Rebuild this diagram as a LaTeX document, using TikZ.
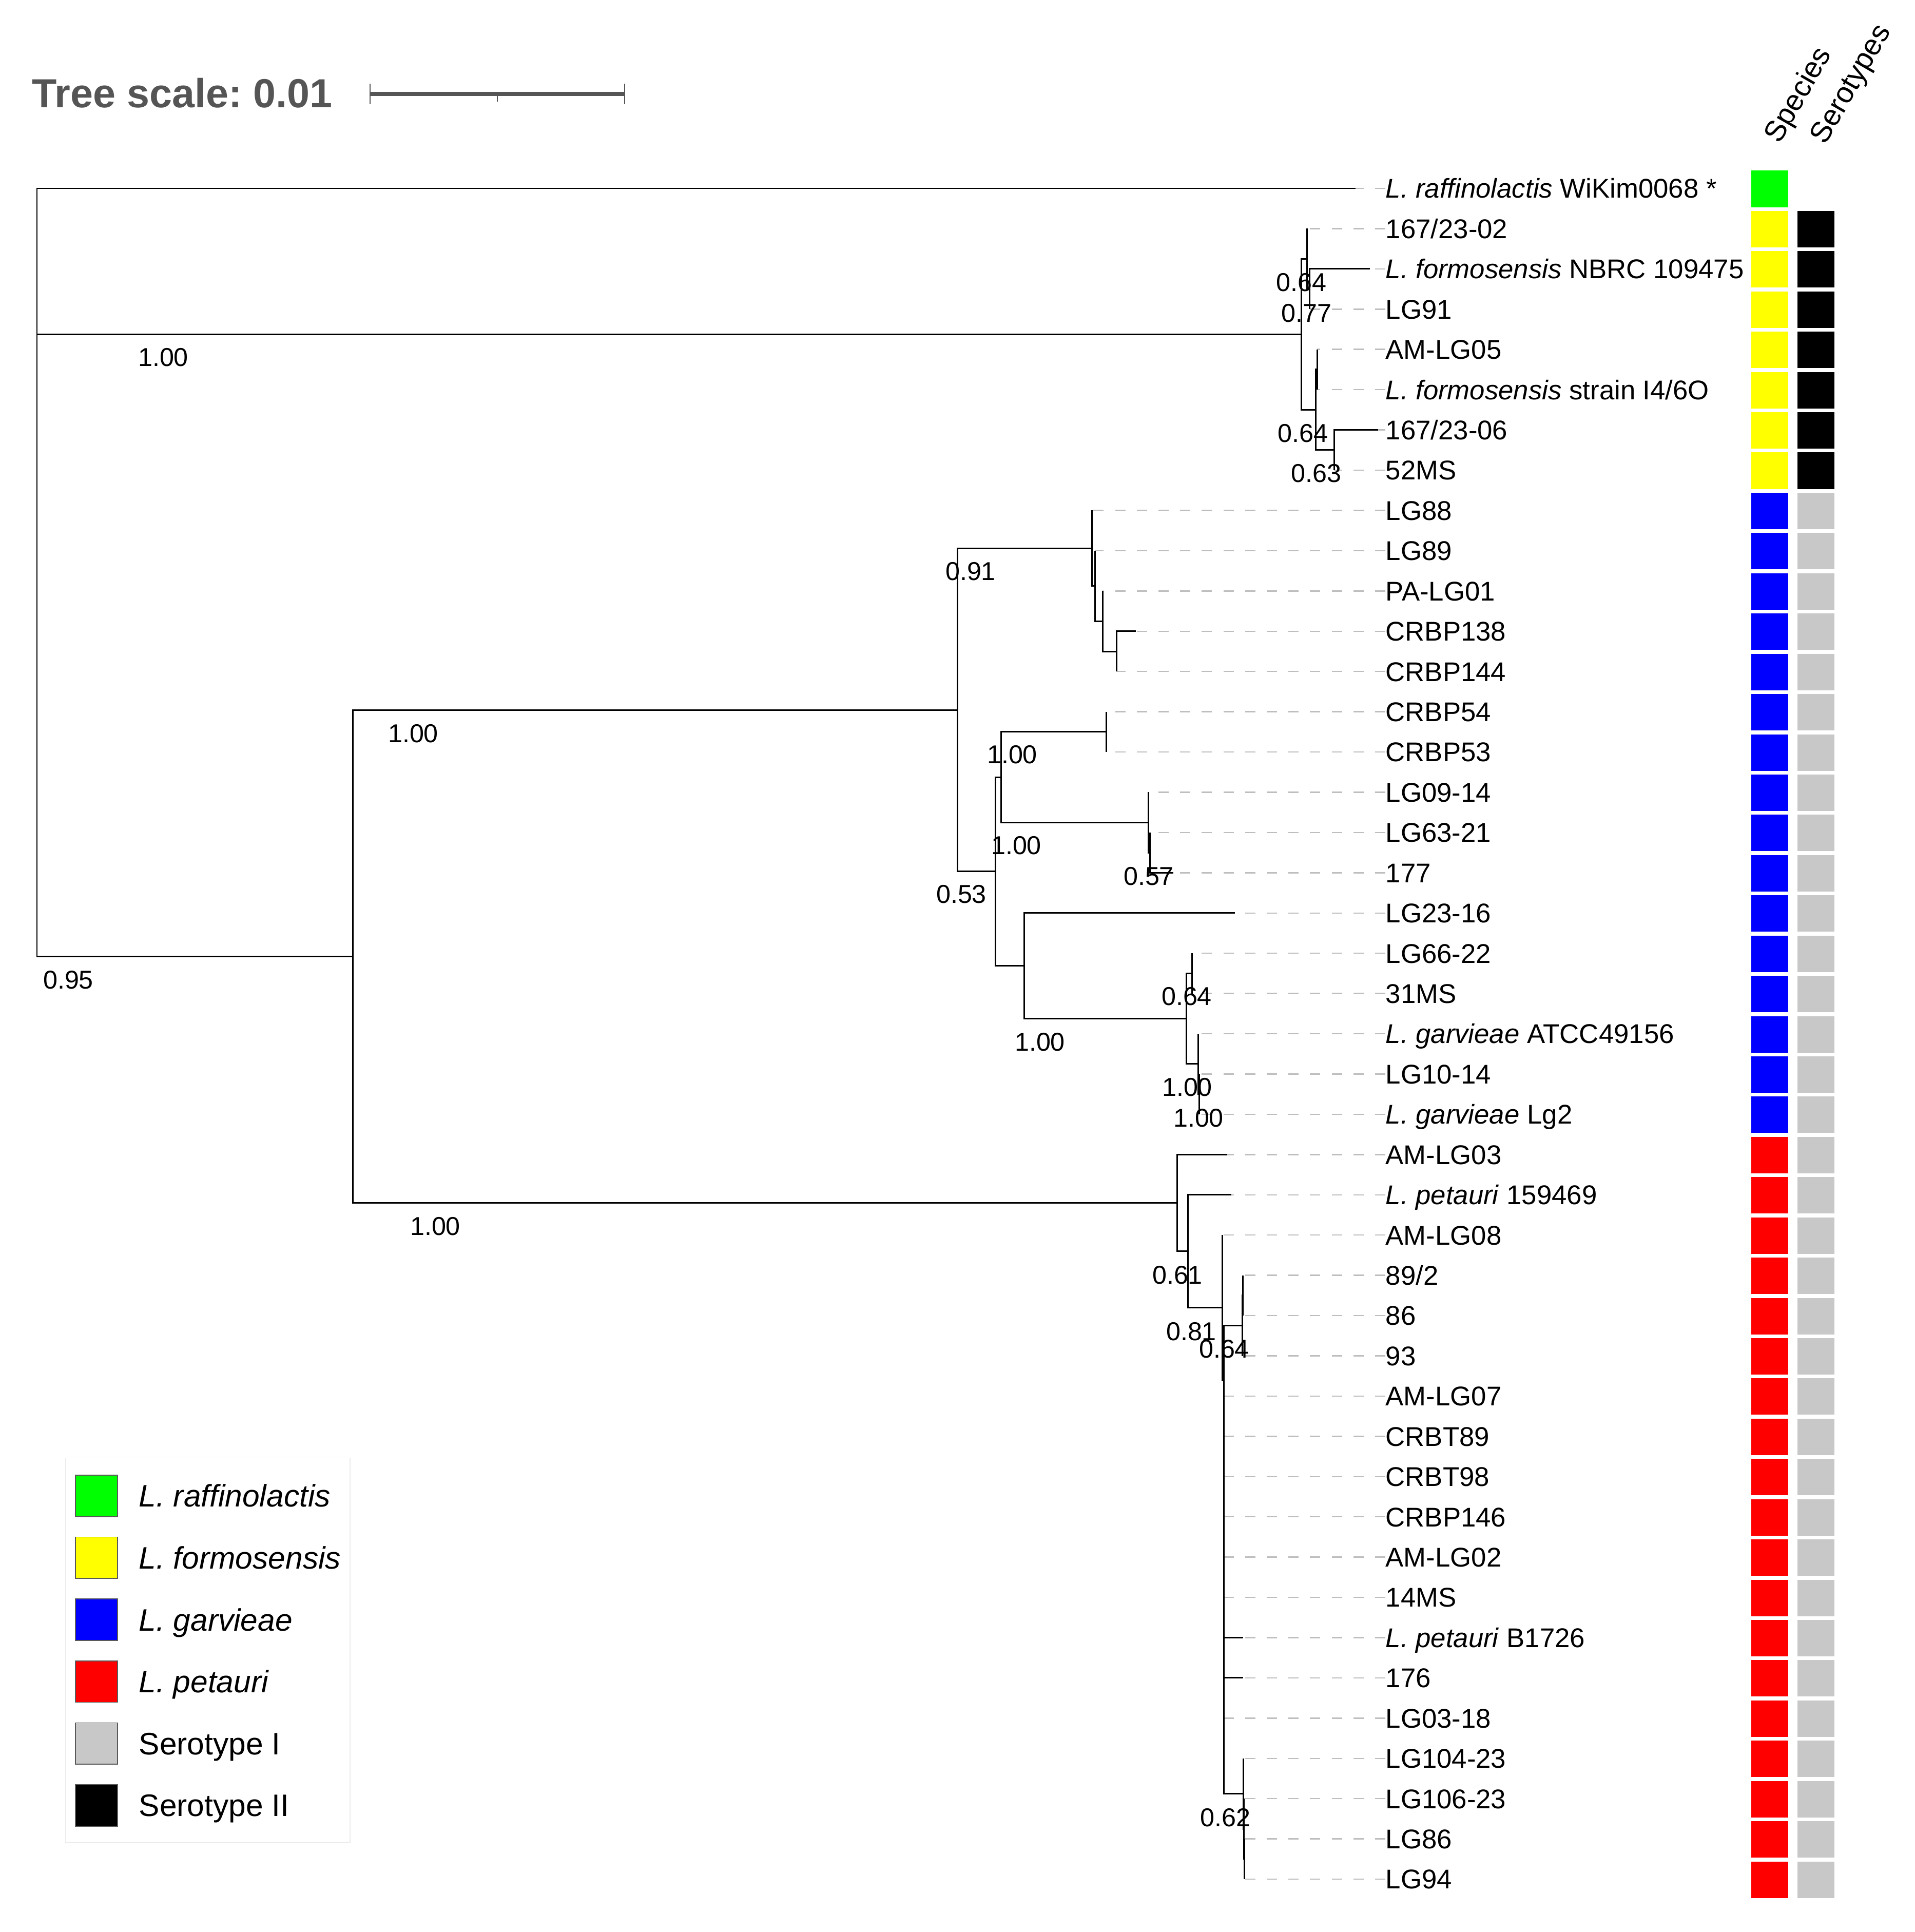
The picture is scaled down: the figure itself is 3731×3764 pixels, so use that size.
\documentclass[tikz,border=0pt]{standalone}
\usepackage{fontspec}
\setmainfont{Liberation Sans}
\frenchspacing
\definecolor{cgreen}{RGB}{0,255,0}
\definecolor{cyellow}{RGB}{255,255,0}
\definecolor{cblue}{RGB}{0,0,255}
\definecolor{cred}{RGB}{255,0,0}
\definecolor{cgray}{RGB}{200,200,200}
\definecolor{cblack}{RGB}{0,0,0}
\definecolor{tgray}{RGB}{85,85,85}
\definecolor{dgray}{RGB}{190,190,190}
\definecolor{lframe}{RGB}{235,235,235}
\newcommand{\leafrow}[5]{%
  \coordinate (l#1) at (#2,{367+(#1-1)*78.43});
  \node[leaf] (t#1) at (2699,{367+(#1-1)*78.43}) {#3};
  \draw[dl] (t#1.west) -- (l#1);
  \node[cbox, fill=#4] (sp#1) at (3448,{368+(#1-1)*78.43}) {};
  \node[cbox, fill=#5] (se#1) at (3538,{368+(#1-1)*78.43}) {};
}
\begin{document}
\begin{tikzpicture}[x=0.01cm,y=-0.01cm,
  br/.style={line width=0.85pt, black},
  dl/.style={line width=0.7pt, dgray, dash pattern=on 5.7pt off 6.3pt},
  leaf/.style={anchor=west, inner sep=0pt, font=\fontsize{15}{18}\selectfont, text height=10.74pt, text depth=0pt},
  bs/.style={inner sep=0pt, font=\fontsize{14.3}{17}\selectfont},
  cbox/.style={minimum width=0.72cm, minimum height=0.71cm, inner sep=0pt, draw=none},
  lgsq/.style={minimum width=0.827cm, minimum height=0.806cm, inner sep=0pt, draw=black!65, line width=0.5pt},
  lgtx/.style={anchor=west, inner sep=0pt, font=\fontsize{17.2}{20}\selectfont, text height=12.3pt, text depth=0pt},
  hdr/.style={rotate=60, anchor=base west, inner sep=0pt, font=\fontsize{16.2}{19}\selectfont}
]
\useasboundingbox (0,0) rectangle (3731,3764);

% ---------- header ----------
\node[anchor=west, inner sep=0pt, text=tgray, font=\bfseries\fontsize{22.5}{27}\selectfont, text height=16.1pt, text depth=0pt] (ts) at (62,181) {Tree scale: 0.01};
\coordinate (sb1) at (721,183);
\coordinate (sb2) at (1217,183);
\coordinate (sbm) at (969,183);
\draw[tgray, line width=2pt] (sb1) -- (sb2);
\draw[tgray, line width=0.7pt] ([yshift=0.2cm]sb1) -- ([yshift=-0.2cm]sb1);
\draw[tgray, line width=0.7pt] ([yshift=0.2cm]sb2) -- ([yshift=-0.2cm]sb2);
\draw[tgray, line width=0.7pt] (sbm) -- ([yshift=-0.15cm]sbm);

\node[hdr] (hsp) at (3467,282) {Species};
\node[hdr] (hse) at (3556,284) {Serotypes};

% ---------- leaves ----------
\coordinate (l1) at (2641,367);
\node[leaf] (t1) at (2699,367) {\textit{L. raffinolactis} WiKim0068 *};
\draw[dl] (t1.west) -- (l1);
\node[cbox, fill=cgreen] (sp1) at (3448,368) {};

\leafrow{2}{2546}{167/23-02}{cyellow}{cblack}
\leafrow{3}{2669}{\textit{L. formosensis} NBRC 109475}{cyellow}{cblack}
\leafrow{4}{2551}{LG91}{cyellow}{cblack}
\leafrow{5}{2566}{AM-LG05}{cyellow}{cblack}
\leafrow{6}{2566}{\textit{L. formosensis} strain I4/6O}{cyellow}{cblack}
\leafrow{7}{2685}{167/23-06}{cyellow}{cblack}
\leafrow{8}{2599}{52MS}{cyellow}{cblack}
\leafrow{9}{2127}{LG88}{cblue}{cgray}
\leafrow{10}{2133}{LG89}{cblue}{cgray}
\leafrow{11}{2148}{PA-LG01}{cblue}{cgray}
\leafrow{12}{2213}{CRBP138}{cblue}{cgray}
\leafrow{13}{2175}{CRBP144}{cblue}{cgray}
\leafrow{14}{2155.5}{CRBP54}{cblue}{cgray}
\leafrow{15}{2155.5}{CRBP53}{cblue}{cgray}
\leafrow{16}{2237}{LG09-14}{cblue}{cgray}
\leafrow{17}{2240}{LG63-21}{cblue}{cgray}
\leafrow{18}{2286}{177}{cblue}{cgray}
\leafrow{19}{2406}{LG23-16}{cblue}{cgray}
\leafrow{20}{2322}{LG66-22}{cblue}{cgray}
\leafrow{21}{2322}{31MS}{cblue}{cgray}
\leafrow{22}{2334}{\textit{L. garvieae} ATCC49156}{cblue}{cgray}
\leafrow{23}{2336}{LG10-14}{cblue}{cgray}
\leafrow{24}{2336}{\textit{L. garvieae} Lg2}{cblue}{cgray}
\leafrow{25}{2391}{AM-LG03}{cred}{cgray}
\leafrow{26}{2398.5}{\textit{L. petauri} 159469}{cred}{cgray}
\leafrow{27}{2381}{AM-LG08}{cred}{cgray}
\leafrow{28}{2421}{89/2}{cred}{cgray}
\leafrow{29}{2421}{86}{cred}{cgray}
\leafrow{30}{2420}{93}{cred}{cgray}
\leafrow{31}{2384}{AM-LG07}{cred}{cgray}
\leafrow{32}{2384}{CRBT89}{cred}{cgray}
\leafrow{33}{2384}{CRBT98}{cred}{cgray}
\leafrow{34}{2384}{CRBP146}{cred}{cgray}
\leafrow{35}{2384}{AM-LG02}{cred}{cgray}
\leafrow{36}{2384}{14MS}{cred}{cgray}
\leafrow{37}{2422}{\textit{L. petauri} B1726}{cred}{cgray}
\leafrow{38}{2422}{176}{cred}{cgray}
\leafrow{39}{2384}{LG03-18}{cred}{cgray}
\leafrow{40}{2422}{LG104-23}{cred}{cgray}
\leafrow{41}{2423}{LG106-23}{cred}{cgray}
\leafrow{42}{2424}{LG86}{cred}{cgray}
\leafrow{43}{2424}{LG94}{cred}{cgray}

% ---------- internal nodes ----------
\coordinate (root) at (72,1115);
\coordinate (A) at (2535,651.3);
\coordinate (B) at (2546,504.2);
\coordinate (D) at (2551,563.1);
\coordinate (C) at (2563,798.4);
\coordinate (G) at (2566,719.9);
\coordinate (E) at (2599,876.8);
\coordinate (H) at (687,1863);
\coordinate (I) at (1865,1383);
\coordinate (J) at (2127,1068);
\coordinate (J2) at (2133,1141.5);
\coordinate (J3) at (2148,1210.2);
\coordinate (J4) at (2175,1269);
\coordinate (K) at (1939,1697.9);
\coordinate (L) at (1950,1514);
\coordinate (O) at (2155.5,1425.8);
\coordinate (N) at (2237,1602.3);
\coordinate (N2) at (2240,1661.1);
\coordinate (M) at (1995,1881.7);
\coordinate (P) at (2311,1984.6);
\coordinate (Q) at (2322,1896.4);
\coordinate (R) at (2334,2072.9);
\coordinate (R2) at (2336,2131.7);
\coordinate (S) at (2293,2343.5);
\coordinate (T) at (2314,2437.7);
\coordinate (U) at (2381,2547.6);
\coordinate (V) at (2384,2689);
\coordinate (W) at (2420,2582.6);
\coordinate (W2) at (2421,2523.8);
\coordinate (X) at (2422,3494.4);
\coordinate (X2) at (2423,3563);
\coordinate (X3) at (2424,3621.9);

% ---------- branches ----------
\draw[br] (root) |- (l1);
\draw[br] (root) |- (A);
\draw[br] (root) |- (H);
\draw[br] (A) |- (B);  \draw[br] (A) |- (C);
\draw[br] (B) |- (l2); \draw[br] (B) |- (D);
\draw[br] (D) |- (l3); \draw[br] (D) |- (l4);
\draw[br] (C) |- (G);  \draw[br] (C) |- (E);
\draw[br] (G) |- (l5); \draw[br] (G) |- (l6);
\draw[br] (E) |- (l7); \draw[br] (E) |- (l8);
\draw[br] (H) |- (I);  \draw[br] (H) |- (S);
\draw[br] (I) |- (J);  \draw[br] (I) |- (K);
\draw[br] (J) |- (l9); \draw[br] (J) |- (J2);
\draw[br] (J2) |- (l10); \draw[br] (J2) |- (J3);
\draw[br] (J3) |- (l11); \draw[br] (J3) |- (J4);
\draw[br] (J4) |- (l12); \draw[br] (J4) |- (l13);
\draw[br] (K) |- (L);  \draw[br] (K) |- (M);
\draw[br] (L) |- (O);  \draw[br] (L) |- (N);
\draw[br] (O) |- (l14); \draw[br] (O) |- (l15);
\draw[br] (N) |- (l16); \draw[br] (N) |- (N2);
\draw[br] (N2) |- (l17); \draw[br] (N2) |- (l18);
\draw[br] (M) |- (l19); \draw[br] (M) |- (P);
\draw[br] (P) |- (Q);  \draw[br] (P) |- (R);
\draw[br] (Q) |- (l20); \draw[br] (Q) |- (l21);
\draw[br] (R) |- (l22); \draw[br] (R) |- (R2);
\draw[br] (R2) |- (l23); \draw[br] (R2) |- (l24);
\draw[br] (S) |- (l25); \draw[br] (S) |- (T);
\draw[br] (T) |- (l26); \draw[br] (T) |- (U);
\draw[br] (U) |- (l27); \draw[br] (U) |- (V);
\draw[br] (V) |- (W);  \draw[br] (V) |- (X);
\foreach \k in {31,...,39} {\draw[br] (V) |- (l\k);}
\draw[br] (W) |- (W2); \draw[br] (W) |- (l30);
\draw[br] (W2) |- (l28); \draw[br] (W2) |- (l29);
\draw[br] (X) |- (l40); \draw[br] (X) |- (X2);
\draw[br] (X2) |- (l41); \draw[br] (X2) |- (X3);
\draw[br] (X3) |- (l42); \draw[br] (X3) |- (l43);

% ---------- support values ----------
\node[bs] (bA) at (318,696) {1.00};
\node[bs] (bH) at (133,1909) {0.95};
\node[bs] (bI) at (805,1429) {1.00};
\node[bs] (bS) at (848,2389) {1.00};
\node[bs] (bB) at (2535,550) {0.64};
\node[bs] (bD) at (2545,610) {0.77};
\node[bs] (bC) at (2538,844) {0.64};
\node[bs] (bE) at (2564,922) {0.63};
\node[bs] (bJ) at (1891,1113) {0.91};
\node[bs] (bO) at (1972,1470) {1.00};
\node[bs] (bN) at (1980,1647) {1.00};
\node[bs] (bN2) at (2238,1707) {0.57};
\node[bs] (bK) at (1873,1742) {0.53};
\node[bs] (bP) at (2026,2030) {1.00};
\node[bs] (bQ) at (2312,1941) {0.64};
\node[bs] (bR) at (2313,2118) {1.00};
\node[bs] (bR2) at (2335,2178) {1.00};
\node[bs] (bT) at (2294,2484) {0.61};
\node[bs] (bU) at (2321,2594) {0.81};
\node[bs] (bW) at (2385,2628) {0.64};
\node[bs] (bX) at (2387,3541) {0.62};

% ---------- legend ----------
\node[draw=lframe, line width=0.5pt, minimum width=5.541cm, minimum height=7.49cm, inner sep=0pt] (legend) at (404.65,3215.3) {};
\node[lgsq, fill=cgreen] (q1) at (188,2914.3) {};
\node[lgtx] (g1) at (270,2914.3) {\textit{L. raffinolactis}};
\node[lgsq, fill=cyellow] (q2) at (188,3034.9) {};
\node[lgtx] (g2) at (270,3034.9) {\textit{L. formosensis}};
\node[lgsq, fill=cblue] (q3) at (188,3155.5) {};
\node[lgtx] (g3) at (270,3155.5) {\textit{L. garvieae}};
\node[lgsq, fill=cred] (q4) at (188,3276.1) {};
\node[lgtx] (g4) at (270,3276.1) {\textit{L. petauri}};
\node[lgsq, fill=cgray] (q5) at (188,3396.7) {};
\node[lgtx] (g5) at (270,3396.7) {Serotype I};
\node[lgsq, fill=cblack] (q6) at (188,3517.3) {};
\node[lgtx] (g6) at (270,3517.3) {Serotype II};
\end{tikzpicture}
\end{document}
